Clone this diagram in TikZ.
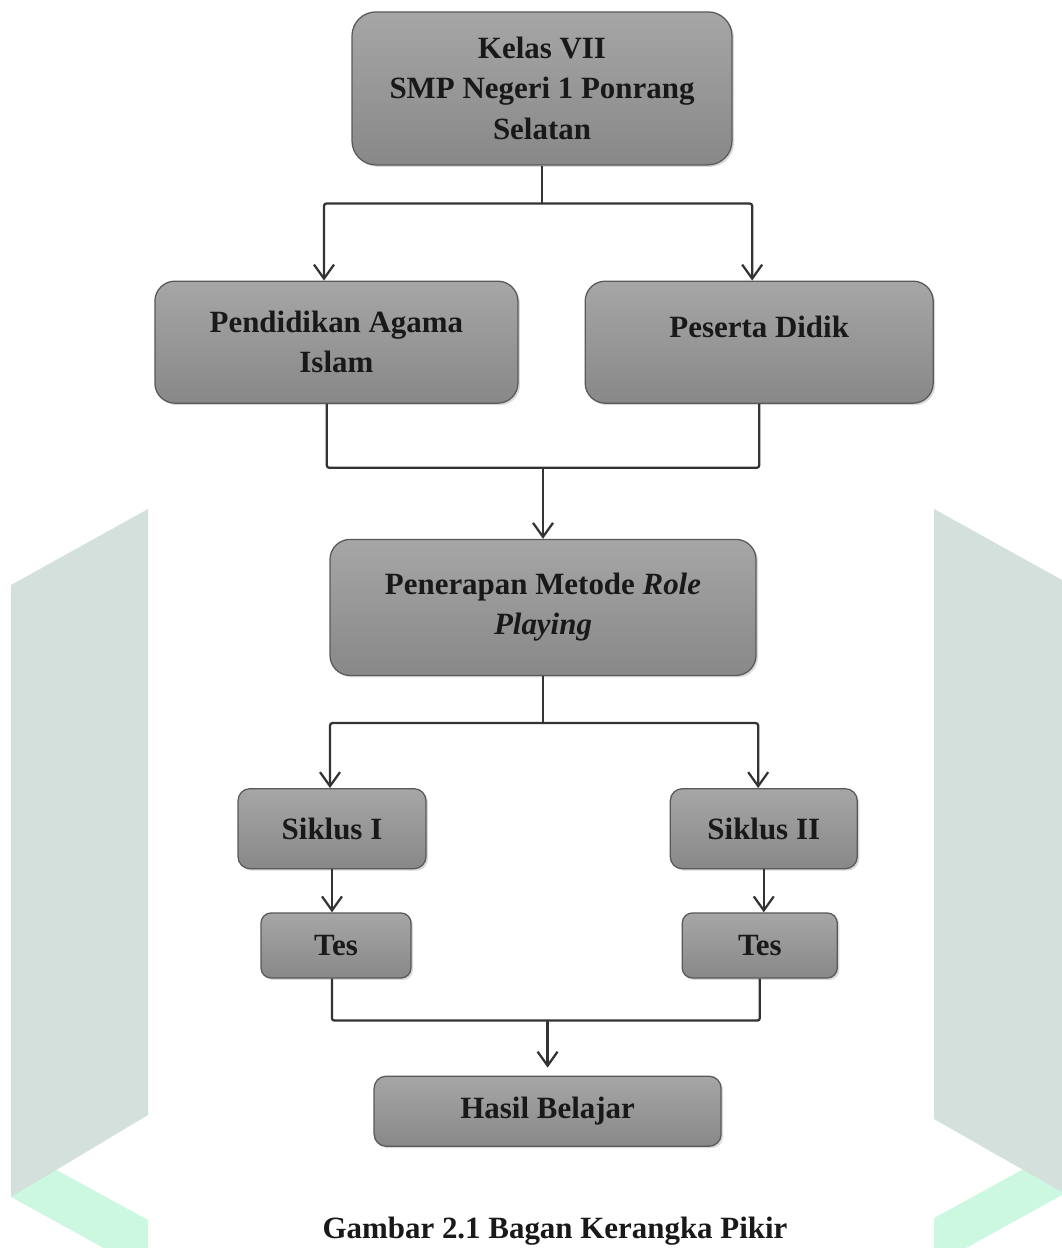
\documentclass[tikz,border=0pt]{standalone}
\usepackage{fontspec}
\setmainfont{Liberation Serif}
\usetikzlibrary{arrows.meta,positioning,calc,shadows}
\definecolor{boxtop}{HTML}{A6A6A6}
\definecolor{boxbot}{HTML}{888888}
\definecolor{wmgray}{HTML}{D3E0DC}
\definecolor{wmgreen}{HTML}{CCF8E2}
\tikzset{
  box/.style={draw=black!65, line width=0.9pt, top color=boxtop, bottom color=boxbot, rounded corners=5mm, align=center, inner sep=2pt, text=black!90, font=\bfseries\fontsize{22}{28.5}\selectfont, drop shadow={shadow xshift=0.5mm, shadow yshift=-0.5mm, opacity=0.3}},
  smallbox/.style={box, rounded corners=3mm},
  wire/.style={draw=black!80, line width=1.6pt, rounded corners=0.6mm},
  arrow/.style={wire, -{Straight Barb[length=3.5mm,width=5mm]}},
  caption/.style={inner sep=0pt, text=black!90, font=\bfseries\fontsize{22}{26}\selectfont}
}

\begin{document}
\begin{tikzpicture}[x=1mm, y=1mm]
\useasboundingbox (0,0) rectangle (265.5,-312);
% watermark at the sides
\fill[wmgreen] (2.75,-286.25) -- (37,-305) -- (37,-312) -- (25.9,-312) -- (2.75,-299.25) -- cycle;
\fill[wmgray] (2.75,-146.25) -- (37,-127.25) -- (37,-278.75) -- (2.75,-299.25) -- cycle;
\fill[wmgreen] (233.5,-304.5) -- (265.5,-287) -- (265.5,-298.75) -- (241.5,-312) -- (233.5,-312) -- cycle;
\fill[wmgray] (233.5,-127.25) -- (265.5,-145) -- (265.5,-298) -- (233.5,-279.75) -- cycle;

\node[box, minimum width=95mm, minimum height=38.25mm, rounded corners=6mm] (kelas) at (135.5,-22.1) {Kelas VII\\SMP Negeri 1 Ponrang\\Selatan};
\node[box, below=28.75mm of kelas, xshift=-51.4mm, minimum width=90.75mm, minimum height=30.5mm] (pai) {Pendidikan Agama\\Islam};
\node[box, right=16.5mm of pai, minimum width=87mm, minimum height=30.5mm] (peserta) {Peserta Didik\\[-5.5mm]\strut};
\node[box, below=33.75mm of pai, xshift=51.65mm, minimum width=106.5mm, minimum height=34mm] (metode) {Penerapan Metode \textit{Role}\\\textit{Playing}};
\node[smallbox, below=28mm of metode, xshift=-52.75mm, minimum width=47mm, minimum height=20mm] (siklusA) {Siklus I};
\node[smallbox, right=60.75mm of siklusA, minimum width=46.75mm, minimum height=20mm] (siklusB) {Siklus II};
\node[smallbox, below=10.75mm of siklusA, xshift=1mm, minimum width=37.5mm, minimum height=16.25mm, rounded corners=2.5mm] (tesA) {Tes};
\node[smallbox, below=10.75mm of siklusB, xshift=-1mm, minimum width=38.75mm, minimum height=16.25mm, rounded corners=2.5mm] (tesB) {Tes};
\node[smallbox, below=24.25mm of tesA, xshift=52.9mm, minimum width=86.75mm, minimum height=17.5mm] (hasil) {Hasil Belajar};
\node[caption, below=17.5mm of hasil, xshift=1.85mm] (judul) {Gambar 2.1 Bagan Kerangka Pikir};

% branch points
\coordinate[below=9.5mm of kelas.south] (forkA);
\coordinate[above=17.75mm of metode.north] (joinA);
\coordinate[below=11.75mm of metode.south] (forkB);
\coordinate[above=13.75mm of hasil.north] (joinB);

\draw[wire] (kelas.south) -- (forkA);
\draw[arrow] (forkA) -| ([xshift=-3.1mm]pai.north);
\draw[arrow] (forkA) -| ([xshift=-1.75mm]peserta.north);
\draw[wire] ([xshift=-2.4mm]pai.south) |- (joinA) -| (peserta.south);
\draw[arrow] (joinA) -- (metode.north);
\draw[wire] (metode.south) -- (forkB);
\draw[arrow] (forkB) -| ([xshift=-0.5mm]siklusA.north);
\draw[arrow] (forkB) -| ([xshift=-1.4mm]siklusB.north);
\draw[arrow] (siklusA.south) -- (siklusA.south |- tesA.north);
\draw[arrow] (siklusB.south) -- (siklusB.south |- tesB.north);
\draw[wire] ([xshift=-1mm]tesA.south) |- (joinB) -| (tesB.south);
\draw[arrow, shorten >=2mm] (joinB) -- (hasil.north);
\end{tikzpicture}
\end{document}
